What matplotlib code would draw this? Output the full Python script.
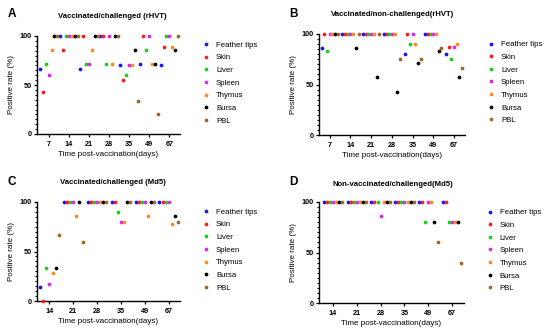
import numpy as np
from matplotlib import pyplot as plt
from matplotlib.ticker import MultipleLocator

plt.rcParams['font.family'] = ['Liberation Sans', 'DejaVu Sans']
plt.rcParams['font.weight'] = 'bold'

tissues = ['Feather tips', 'Skin', 'Liver', 'Spleen', 'Thymus', 'Bursa', 'PBL']
colors = ['#1414FF', '#FF1A1A', '#19CF19', '#D62BE6', '#FF8A1F', '#000000', '#A0652A']

daysAB = ['7', '14', '21', '28', '35', '49', '67']
daysCD = ['14', '21', '28', '35', '49', '67']

# positive rate (%) per tissue, one value per time point group
vacChalRHVT = {
    'Feather tips': [66.7, 100, 66.7, 100, 70, 71.4, 70],
    'Skin': [42.9, 85.7, 100, 100, 55.6, 100, 88.9],
    'Liver': [71.4, 100, 71.4, 71.4, 60, 85.7, 100],
    'Spleen': [60, 100, 71.4, 100, 70, 100, 100],
    'Thymus': [85.7, 100, 85.7, 71.4, 70, 71.4, 88.9],
    'Bursa': [100, 100, 100, 100, 85.7, 71.4, 85.7],
    'PBL': [100, 100, 100, 100, 33.3, 20, 100],
}
vacNonChalRHVT = {
    'Feather tips': [85.7, 100, 100, 100, 80, 100, 80],
    'Skin': [100, 100, 100, 100, 100, 100, 87.5],
    'Liver': [83.3, 100, 100, 100, 90, 100, 75],
    'Spleen': [100, 100, 100, 100, 100, 100, 87.5],
    'Thymus': [100, 100, 100, 100, 90, 100, 90],
    'Bursa': [100, 85.7, 57.1, 42.9, 71.4, 83.3, 57.1],
    'PBL': [100, 100, 100, 75, 75, 85.7, 66.7],
}
vacChalMd5 = {
    'Feather tips': [14.3, 100, 100, 100, 100, 100],
    'Skin': [0, 100, 100, 100, 100, 100],
    'Liver': [33.3, 100, 100, 90, 100, 100],
    'Spleen': [16.7, 100, 100, 80, 100, 100],
    'Thymus': [28.6, 85.7, 100, 80, 85.7, 77.8],
    'Bursa': [33.3, 100, 100, 100, 100, 85.7],
    'PBL': [66.7, 60, 100, 100, 100, 80],
}
nonVacChalMd5 = {
    'Feather tips': [100, 100, 100, 100, 100, 100],
    'Skin': [100, 100, 100, 100, 100, 100],
    'Liver': [100, 100, 100, 100, 80, 80],
    'Spleen': [100, 100, 85.7, 100, 100, 80],
    'Thymus': [100, 100, 100, 100, 100, 80],
    'Bursa': [100, 100, 100, 100, 80, 80],
    'PBL': [100, 100, 100, 100, 60, 40],
}

W, H = 550, 335
fig = plt.figure(figsize=(W/100, H/100), dpi=100)

def pxRect(left, right, top, bottom):
    return [left/W, 1 - bottom/H, (right - left)/W, (bottom - top)/H]

def panel(rect, data, days, step, xlim, title, letter, titlePos, letterPos, legX, legY):
    ax = fig.add_axes(pxRect(*rect))
    x = np.arange(len(days))
    for i, t in enumerate(tissues):
        ax.plot(x + (i - 3)*step, data[t], 'o', color=colors[i], ms=2.7,
                mew=0, label=t, clip_on=False, zorder=3)
    ax.set_xlim(*xlim)
    ax.set_ylim(0, 100)
    ax.set_xticks(x)
    ax.set_xticklabels(days)
    ax.set_yticks([0, 50, 100])
    ax.yaxis.set_minor_locator(MultipleLocator(5))
    for s in ['top', 'right']:
        ax.spines[s].set_visible(False)
    for s in ['left', 'bottom']:
        ax.spines[s].set_linewidth(1.0)
    ax.tick_params(axis='both', labelsize=5.2, width=0.9, length=2.5, pad=1.5)
    ax.tick_params(axis='x', pad=2.5)
    ax.tick_params(axis='y', which='minor', width=0.8, length=1.6)
    ax.set_xlabel('Time post-vaccination(days)', fontsize=5.8, labelpad=2.5)
    ax.set_ylabel('Positive rate (%)', fontsize=5.8, labelpad=3)
    leg = ax.legend(loc='center left', bbox_to_anchor=(legX, legY), frameon=False,
                    fontsize=5.6, handlelength=1.0, handletextpad=0.8,
                    labelspacing=0.67, borderpad=0, borderaxespad=0)
    for txt in leg.get_texts():
        txt.set_fontweight('normal')
    fig.text(titlePos[0]/W, 1 - titlePos[1]/H, title, fontsize=5.6, fontweight='bold',
             ha='center', va='center')
    fig.text(letterPos[0]/W, 1 - letterPos[1]/H, letter, fontsize=8.5, fontweight='bold',
             ha='center', va='center')
    return ax

panel((37, 180, 36, 134), vacChalRHVT, daysAB, 0.145, (-0.58, 6.53),
      'Vaccinated/challenged (rHVT)', 'A', (112, 16), (12, 14), 1.154, 0.52)
panel((319, 465, 34, 135), vacNonChalRHVT, daysAB, 0.13, (-0.52, 6.53),
      'Vaccinated/non-challenged(rHVT)', 'B', (393, 15), (293, 14), 1.15, 0.52)
panel((37, 180, 202, 301), vacChalMd5, daysCD, 0.13, (-0.52, 5.47),
      'Vaccinated/challenged (Md5)', 'C', (113, 183), (12, 182), 1.154, 0.515)
panel((319, 464, 202, 303), nonVacChalMd5, daysCD, 0.13, (-0.59, 5.5),
      'Non-vaccinated/challenged(Md5)', 'D', (393, 184), (293, 182), 1.15, 0.52)

fig.savefig('out.png', dpi=100)
